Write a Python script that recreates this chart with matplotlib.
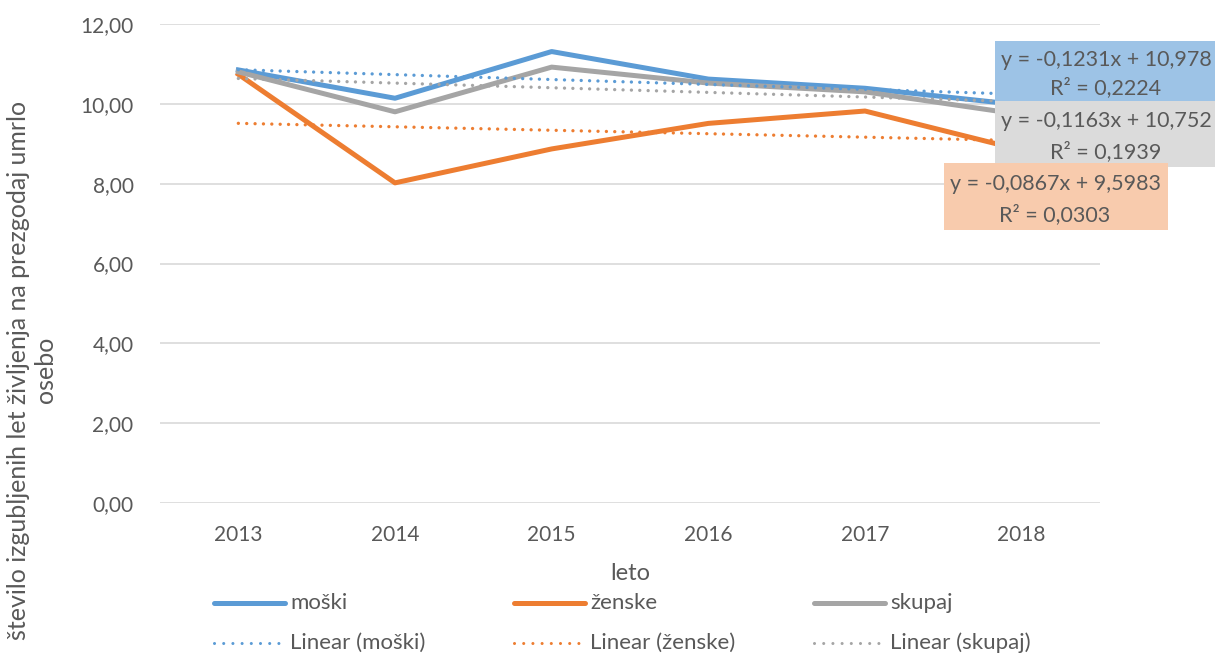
import numpy as np
import matplotlib
matplotlib.use("Agg")
import matplotlib.pyplot as plt
from matplotlib.lines import Line2D
from matplotlib.patches import Rectangle
from matplotlib.ticker import FuncFormatter

# data
years = ["2013", "2014", "2015", "2016", "2017", "2018"]
moski = [10.85, 10.14, 11.31, 10.62, 10.39, 9.97]
zenske = [10.74, 8.02, 8.87, 9.51, 9.82, 8.84]
skupaj = [10.80, 9.80, 10.92, 10.52, 10.30, 9.73]
names = ["moški", "ženske", "skupaj"]

# Excel linear trendlines (x = 1..6), as printed on the chart
trend_slope = [-0.1231, -0.0867, -0.1163]
trend_intercept = [10.978, 9.5983, 10.752]
trend_eq = ["y = -0,1231x + 10,978", "y = -0,0867x + 9,5983", "y = -0,1163x + 10,752"]
trend_r2 = ["R² = 0,2224", "R² = 0,0303", "R² = 0,1939"]

BLUE = "#5B9BD5"
ORANGE = "#ED7D31"
GREY = "#A5A5A5"
INK = "#595959"
GRID = "#D9D9D9"
colors = [BLUE, ORANGE, GREY]
box_colors = ["#9DC3E6", "#F8CBAD", "#DBDBDB"]

plt.rcParams["font.family"] = ["Lato", "DejaVu Sans"]
plt.rcParams["font.size"] = 15

W, H = 1215, 656
fig = plt.figure(figsize=(W / 100, H / 100), dpi=100)
ax = fig.add_axes([160 / W, 1 - 503 / H, 940 / W, (503 - 24) / H])

x = np.arange(len(years))
series = [moski, zenske, skupaj]
for vals, col in zip(series, colors):
    ax.plot(x, vals, color=col, lw=3.6, solid_joinstyle="round", zorder=3)

xt = np.array([x[0], x[-1]])
for m, b, col in zip(trend_slope, trend_intercept, colors):
    ax.plot(xt, b + m * (xt + 1), color=col, lw=2.4,
            linestyle=(0, (0.01, 2.5)), dash_capstyle="round", zorder=4)

ax.set_xlim(-0.5, len(years) - 0.5)
ax.set_ylim(0, 12)
ax.set_yticks(np.arange(0, 13, 2))
ax.yaxis.set_major_formatter(FuncFormatter(lambda v, p: f"{v:.2f}".replace(".", ",")))
ax.set_xticks(x)
ax.set_xticklabels(years)
ax.tick_params(length=0, colors=INK, labelsize=15)
ax.tick_params(axis="x", pad=16)
ax.tick_params(axis="y", pad=19)
ax.grid(axis="y", color=GRID, lw=1.2)
ax.set_axisbelow(True)
for s in ax.spines.values():
    s.set_visible(False)

fig.text(630 / W, 1 - 573 / H, "leto", ha="center", va="center", color=INK, fontsize=17)
fig.text(32 / W, 1 - 370 / H,
         "število izgubljenih let življenja na prezgodaj umrlo\nosebo",
         rotation=90, ha="center", va="center", multialignment="center",
         color=INK, fontsize=18, linespacing=1.25)

# trendline labels (blue, grey, then orange on top)
boxes = {0: (995, 41, 225, 60), 2: (995, 101, 225, 66), 1: (944, 163, 224, 67)}
for i in [0, 2, 1]:
    bx, by, bw, bh = boxes[i]
    fig.add_artist(Rectangle((bx / W, 1 - (by + bh) / H), bw / W, bh / H,
                             transform=fig.transFigure, facecolor=box_colors[i],
                             edgecolor="none", zorder=5))
    cx = (bx + min(bw, 222) / 2) / W
    fig.text(cx, 1 - (by + bh * 0.31) / H, trend_eq[i], ha="center", va="center",
             color=INK, fontsize=15.5, zorder=6)
    fig.text(cx, 1 - (by + bh * 0.77) / H, trend_r2[i], ha="center", va="center",
             color=INK, fontsize=15.5, zorder=6)

# legend, drawn Excel-style in equal columns
for i, (name, col) in enumerate(zip(names, colors)):
    x0 = 214 + 300 * i
    for row, (label, ls, lw) in enumerate([(name, "-", 3.6),
                                           (f"Linear ({name})", (0, (0.01, 3.0)), 2.2)]):
        yy = 1 - (603 + 40 * row) / H
        fig.add_artist(Line2D([x0 / W, (x0 + 71) / W], [yy, yy], color=col, lw=lw,
                              linestyle=ls, solid_capstyle="round",
                              dash_capstyle="round", transform=fig.transFigure))
        fig.text((x0 + 76) / W, yy, label, ha="left", va="center", color=INK, fontsize=16)

fig.savefig("out.png", dpi=100)
